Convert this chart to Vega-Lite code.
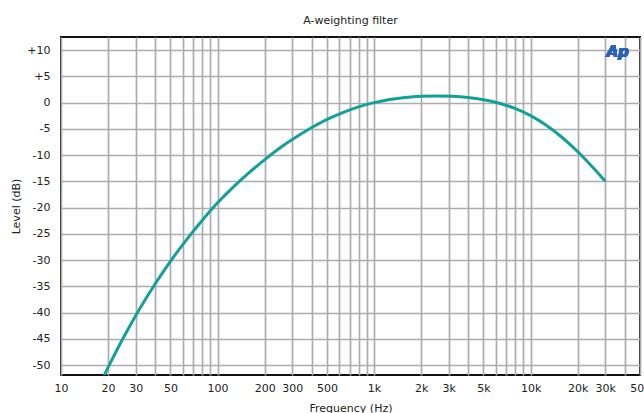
{
  "$schema": "https://vega.github.io/schema/vega-lite/v6.json",
  "autosize": "none",
  "width": 579,
  "height": 338,
  "padding": {"left": 61, "top": 37, "right": 4, "bottom": 38},
  "background": "white",
  "title": {"text": "A-weighting filter", "font": "DejaVu Sans", "fontSize": 11, "fontWeight": "normal", "color": "#222", "offset": 11, "anchor": "middle"},
  "config": {
    "view": {"stroke": "#111", "strokeWidth": 2},
    "axis": {"labelFont": "DejaVu Sans", "titleFont": "DejaVu Sans", "labelFontSize": 11, "titleFontSize": 11, "titleFontWeight": "normal", "labelColor": "#222", "titleColor": "#222", "gridColor": "#adadad", "gridWidth": 1.7, "gridOpacity": 1, "domain": false, "ticks": false}
  },
  "data": {"values": [
    {"f": 15.85, "level": -56.7},
    {"f": 19.95, "level": -50.5},
    {"f": 25.12, "level": -44.7},
    {"f": 31.62, "level": -39.4},
    {"f": 39.81, "level": -34.6},
    {"f": 50.12, "level": -30.2},
    {"f": 63.1, "level": -26.2},
    {"f": 79.43, "level": -22.5},
    {"f": 100, "level": -19.1},
    {"f": 125.9, "level": -16.1},
    {"f": 158.5, "level": -13.4},
    {"f": 199.5, "level": -10.9},
    {"f": 251.2, "level": -8.6},
    {"f": 316.2, "level": -6.6},
    {"f": 398.1, "level": -4.8},
    {"f": 501.2, "level": -3.2},
    {"f": 631, "level": -1.9},
    {"f": 794.3, "level": -0.8},
    {"f": 1000, "level": 0},
    {"f": 1259, "level": 0.59},
    {"f": 1585, "level": 0.98},
    {"f": 1995, "level": 1.2},
    {"f": 2512, "level": 1.27},
    {"f": 3162, "level": 1.2},
    {"f": 3981, "level": 0.97},
    {"f": 5012, "level": 0.55},
    {"f": 6310, "level": -0.12},
    {"f": 7943, "level": -1.11},
    {"f": 10000, "level": -2.49},
    {"f": 12589, "level": -4.32},
    {"f": 15849, "level": -6.6},
    {"f": 19953, "level": -9.32},
    {"f": 25119, "level": -12.4},
    {"f": 30000, "level": -14.97}
  ]},
  "layer": [
    {
      "mark": {"type": "line", "interpolate": "natural", "color": "#13a09a", "strokeWidth": 3, "clip": true},
      "encoding": {
        "x": {"field": "f", "type": "quantitative",
          "scale": {"type": "log", "domain": [10, 50000], "nice": false},
          "axis": {"title": "Frequency (Hz)", "titlePadding": 9, "labelPadding": 7, "labelOverlap": false, "labelBound": false, "labelFlush": false,
            "values": [10,20,30,40,50,60,70,80,90,100,200,300,400,500,600,700,800,900,1000,2000,3000,4000,5000,6000,7000,8000,9000,10000,20000,30000,40000,50000],
            "labelExpr": "indexof([10,20,30,50,100,200,300,500,1000,2000,3000,5000,10000,20000,30000,50000], datum.value) >= 0 ? (datum.value >= 1000 ? (datum.value/1000) + 'k' : '' + datum.value) : ''"}},
        "y": {"field": "level", "type": "quantitative",
          "scale": {"domain": [-51.9, 12.5], "nice": false, "zero": false},
          "axis": {"title": "Level (dB)", "titlePadding": 5, "labelPadding": 11, "labelOverlap": false, "labelBound": false, "labelFlush": false,
            "values": [-50,-45,-40,-35,-30,-25,-20,-15,-10,-5,0,5,10],
            "labelExpr": "datum.value > 0 ? '+' + datum.value : '' + datum.value"}}
      }
    },
    {
      "mark": {"type": "text", "text": "Ap", "font": "DejaVu Sans", "fontSize": 15, "fontStyle": "italic", "fontWeight": "bold", "color": "#2a62b8"},
      "encoding": {
        "x": {"datum": 36000, "type": "quantitative",
          "scale": {"type": "log", "domain": [10, 50000], "nice": false},
          "axis": {"title": "Frequency (Hz)", "titlePadding": 9, "labelPadding": 7, "labelOverlap": false, "labelBound": false, "labelFlush": false,
            "values": [10,20,30,40,50,60,70,80,90,100,200,300,400,500,600,700,800,900,1000,2000,3000,4000,5000,6000,7000,8000,9000,10000,20000,30000,40000,50000],
            "labelExpr": "indexof([10,20,30,50,100,200,300,500,1000,2000,3000,5000,10000,20000,30000,50000], datum.value) >= 0 ? (datum.value >= 1000 ? (datum.value/1000) + 'k' : '' + datum.value) : ''"}},
        "y": {"datum": 9.6, "type": "quantitative",
          "scale": {"domain": [-51.9, 12.5], "nice": false, "zero": false},
          "axis": {"title": "Level (dB)", "titlePadding": 5, "labelPadding": 11, "labelOverlap": false, "labelBound": false, "labelFlush": false,
            "values": [-50,-45,-40,-35,-30,-25,-20,-15,-10,-5,0,5,10],
            "labelExpr": "datum.value > 0 ? '+' + datum.value : '' + datum.value"}}
      }
    }
  ]
}
